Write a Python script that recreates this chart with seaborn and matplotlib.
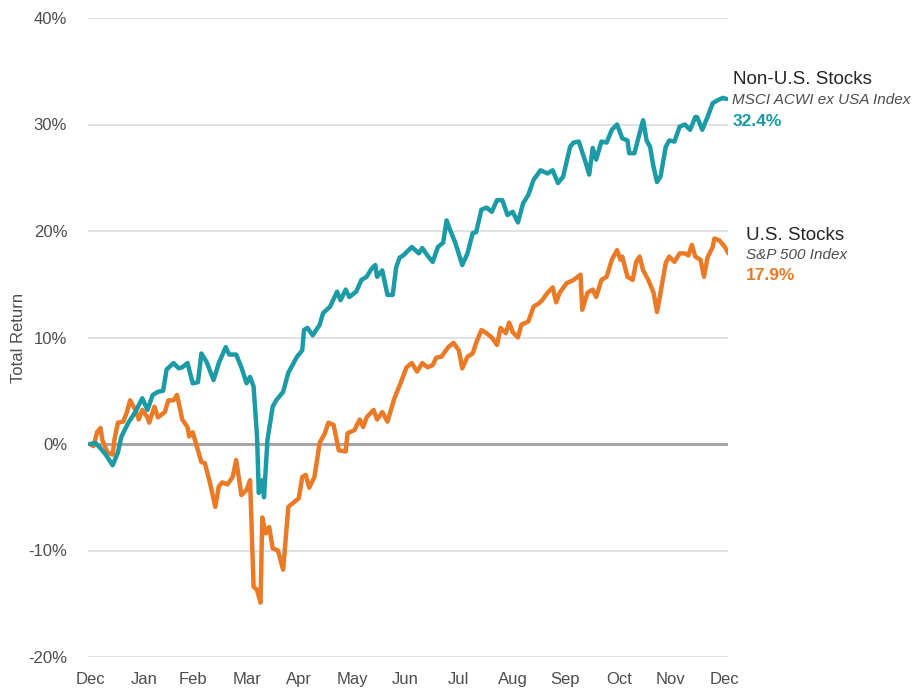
import pandas as pd
import numpy as np
import matplotlib
matplotlib.use('Agg')
import matplotlib.pyplot as plt
import seaborn as sns

# Data: days since 2024-12-31 and cumulative total return (%)
intl_days = [0, 3, 6, 9, 13, 16, 18, 22, 26, 30, 33, 36, 39, 42, 44, 48, 51, 53, 56, 59,
             62, 64, 67, 71, 74, 78, 80, 84, 87, 90, 92, 94, 96, 97, 99, 100, 102, 105, 107, 111,
             114, 119, 122, 123, 125, 128, 132, 134, 138, 142, 144, 147, 149, 153, 156, 159, 162, 164, 165, 168,
             171, 174, 176, 178, 180, 185, 189, 191, 194, 197, 200, 203, 205, 207, 210, 214, 217, 220, 222, 225,
             228, 231, 234, 237, 240, 243, 246, 249, 252, 255, 259, 263, 266, 269, 272, 274, 276, 278, 281, 285,
             287, 289, 291, 294, 297, 300, 303, 306, 309, 310, 313, 316, 318, 320, 322, 324, 326, 328, 331, 333,
             336, 339, 342, 345, 348, 349, 352, 355, 358, 361, 364, 366]
intl_ret = [0.0, 0.1, -0.4, -1.0, -2.0, -0.8, 0.7, 2.0, 3.0, 4.3, 3.2, 4.6, 4.9, 5.0, 7.0, 7.6, 7.1, 7.2, 7.6, 5.7,
            5.8, 8.5, 7.7, 6.0, 7.6, 9.1, 8.4, 8.4, 7.2, 5.7, 6.3, 5.4, 0.7, -4.6, -3.4, -5.0, 0.4, 3.5, 4.1, 4.9,
            6.7, 8.2, 8.8, 10.7, 10.9, 10.2, 11.2, 12.3, 12.9, 14.3, 13.5, 14.5, 13.8, 14.3, 15.4, 15.7, 16.5, 16.8, 15.7, 16.3,
            14.0, 14.0, 16.6, 17.5, 17.7, 18.5, 17.9, 18.4, 17.7, 17.1, 18.5, 18.9, 21.0, 20.1, 18.9, 16.8, 17.9, 19.8, 19.9, 22.0,
            22.2, 21.8, 22.9, 22.9, 21.5, 21.8, 20.8, 22.6, 23.4, 24.8, 25.7, 25.4, 25.7, 24.5, 25.1, 26.5, 27.9, 28.3, 28.4, 26.4,
            25.3, 27.8, 26.7, 28.4, 28.3, 29.5, 30.0, 28.7, 28.5, 27.3, 27.3, 29.2, 30.4, 28.5, 27.9, 26.0, 24.6, 25.1, 27.9, 28.5,
            28.4, 29.8, 30.0, 29.5, 30.7, 30.7, 29.5, 30.7, 32.0, 32.3, 32.5, 32.4]

us_days = [0, 2, 4, 6, 7, 10, 13, 14, 16, 19, 21, 23, 26, 28, 30, 33, 34, 37, 39, 43,
           45, 48, 50, 53, 56, 57, 59, 62, 64, 66, 69, 72, 74, 76, 79, 82, 84, 87, 90, 92,
           94, 96, 98, 99, 101, 103, 105, 108, 111, 114, 117, 120, 122, 124, 126, 129, 132, 135, 137, 140,
           143, 147, 148, 152, 155, 157, 159, 163, 165, 168, 171, 175, 178, 182, 185, 188, 191, 194, 197, 199,
           202, 206, 209, 212, 214, 217, 220, 222, 225, 228, 231, 234, 236, 239, 241, 243, 246, 248, 252, 255,
           258, 260, 263, 266, 268, 270, 274, 278, 282, 283, 286, 289, 291, 294, 297, 300, 303, 305, 306, 309,
           312, 314, 316, 318, 321, 324, 326, 328, 331, 333, 336, 339, 342, 344, 346, 348, 351, 353, 355, 358,
           359, 362, 365, 367]
us_ret = [0.0, -0.2, 1.1, 1.5, 0.4, -0.8, -1.0, 0.4, 2.0, 2.1, 2.9, 4.1, 3.2, 2.3, 3.2, 2.5, 2.0, 3.5, 2.5, 3.0,
          4.1, 4.1, 4.6, 2.3, 1.6, 0.7, 1.1, -0.6, -1.7, -1.8, -3.7, -5.9, -4.0, -3.6, -3.8, -3.1, -1.5, -4.8, -4.3, -3.4,
          -13.4, -13.7, -14.9, -6.9, -8.4, -7.8, -9.8, -10.0, -11.8, -5.9, -5.5, -5.1, -3.1, -2.9, -4.1, -3.1, 0.1, 1.0, 2.0, 1.8,
          -0.6, -0.7, 1.0, 1.3, 2.3, 1.6, 2.5, 3.2, 2.3, 3.0, 2.1, 4.3, 5.5, 7.2, 7.6, 6.8, 7.6, 7.2, 7.4, 8.1,
          8.2, 9.1, 9.5, 8.8, 7.1, 8.2, 8.5, 9.5, 10.7, 10.4, 10.0, 9.3, 10.9, 10.4, 11.4, 10.5, 10.0, 11.2, 11.5, 12.9,
          13.2, 13.5, 14.2, 14.7, 13.3, 14.2, 15.1, 15.4, 15.9, 12.6, 14.2, 14.5, 13.8, 15.4, 15.7, 17.3, 18.2, 17.3, 17.6, 15.7,
          15.4, 17.1, 17.6, 16.3, 15.4, 14.2, 12.4, 14.2, 17.0, 17.6, 17.1, 17.9, 17.9, 17.7, 18.7, 17.6, 17.3, 15.7, 17.5, 18.5,
          19.3, 19.1, 18.5, 17.9]

start = pd.Timestamp('2024-12-31')
intl_df = pd.DataFrame({'date': start + pd.to_timedelta(intl_days, unit='D'), 'ret': intl_ret})
us_df = pd.DataFrame({'date': start + pd.to_timedelta(us_days, unit='D'), 'ret': us_ret})

teal = '#1a9ba6'
orange = '#ea7a26'
grey_txt = '#4d4d4d'

sns.set_theme(style='white')
plt.rcParams['font.family'] = ['Liberation Sans', 'DejaVu Sans']

fig = plt.figure(figsize=(9.21, 6.89), dpi=100)
ax = fig.add_axes([88 / 921, 1 - 657 / 689, 640 / 921, 639 / 689])

# gridlines
for v in [-20, -10, 10, 20, 30, 40]:
    ax.axhline(v, color='#d9d9d9', lw=1.1, zorder=0)
ax.axhline(0, color='#a6a6a6', lw=2.2, zorder=1)

sns.lineplot(data=us_df, x='date', y='ret', color=orange, lw=3.2, ax=ax,
             solid_joinstyle='round', solid_capstyle='round', zorder=3)
sns.lineplot(data=intl_df, x='date', y='ret', color=teal, lw=3.2, ax=ax,
             solid_joinstyle='round', solid_capstyle='round', zorder=4)

ax.set_xlim(start - pd.Timedelta(days=1.2), start + pd.Timedelta(days=366.8))
ax.set_ylim(-20, 40)

yticks = [-20, -10, 0, 10, 20, 30, 40]
ax.set_yticks(yticks)
ax.set_yticklabels([f'{v}%' for v in yticks])

month_ends = pd.date_range('2024-12-31', '2025-12-31', freq='ME')
ax.set_xticks(month_ends)
ax.set_xticklabels([d.strftime('%b') for d in month_ends])

ax.tick_params(axis='y', length=0, pad=15, labelsize=12, labelcolor=grey_txt)
ax.tick_params(axis='x', length=0, pad=11, labelsize=12, labelcolor=grey_txt)
for s in ax.spines.values():
    s.set_visible(False)

ax.set_xlabel('')
ax.set_ylabel('Total Return', fontsize=12, color=grey_txt)
ax.yaxis.set_label_coords(-(88 - 26) / 640, 0.5)

# end labels
fig.text(733 / 921, 1 - 79 / 689, 'Non-U.S. Stocks', fontsize=13.5, color='#262626', va='center', ha='left')
fig.text(732 / 921, 1 - 100 / 689, 'MSCI ACWI ex USA Index', fontsize=11, style='italic',
         color=grey_txt, va='center', ha='left')
fig.text(733 / 921, 1 - 121 / 689, '32.4%', fontsize=12.5, fontweight='bold', color=teal, va='center', ha='left')

fig.text(746 / 921, 1 - 235 / 689, 'U.S. Stocks', fontsize=13.5, color='#262626', va='center', ha='left')
fig.text(746 / 921, 1 - 255 / 689, 'S&P 500 Index', fontsize=11, style='italic',
         color=grey_txt, va='center', ha='left')
fig.text(746 / 921, 1 - 275 / 689, '17.9%', fontsize=12.5, fontweight='bold', color=orange, va='center', ha='left')

plt.savefig('out.png', dpi=100)
